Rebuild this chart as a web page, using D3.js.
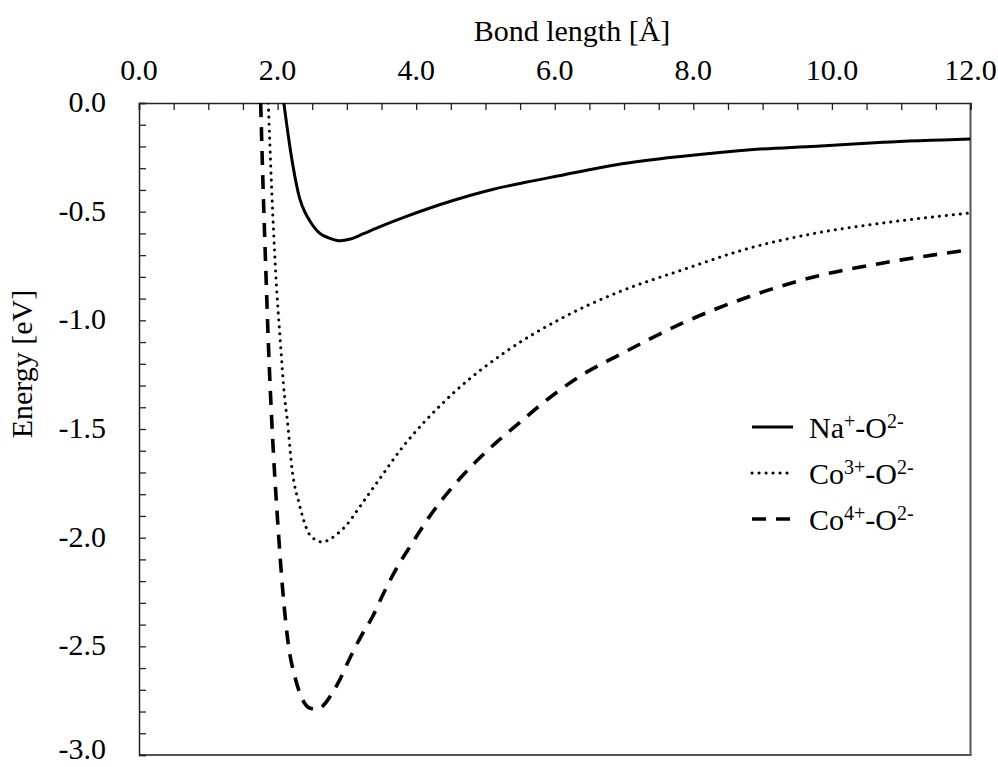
<!DOCTYPE html>
<html>
<head>
<meta charset="utf-8">
<script src="https://cdn.jsdelivr.net/npm/d3@7"></script>
<style>
  html, body { margin: 0; padding: 0; background: #fff; }
  svg { display: block; font-family: "Liberation Serif", "Times New Roman", serif; }
</style>
</head>
<body>
<svg id="chart" width="998" height="767"></svg>
<script>
// ---- data ----
const naX = [2.09, 2.20, 2.32, 2.40, 2.47, 2.61, 2.76, 2.90, 3.05, 3.24, 3.48, 3.85, 4.20, 4.52, 5.10, 5.58, 6.06, 6.89, 7.85, 8.82, 9.78, 10.74, 12.0];
const naY = [0.0, -0.247, -0.44, -0.506, -0.545, -0.600, -0.623, -0.634, -0.626, -0.601, -0.569, -0.523, -0.483, -0.450, -0.398, -0.365, -0.335, -0.284, -0.245, -0.215, -0.199, -0.181, -0.166];

const co3X = [1.866, 1.915, 1.97, 2.04, 2.10, 2.14, 2.21, 2.31, 2.45, 2.55, 2.64, 2.74, 2.84, 3.00, 3.17, 3.46, 3.80, 4.14, 4.57, 5.29, 6.06, 6.89, 7.85, 8.82, 9.78, 10.74, 12.0];
const co3Y = [0.0, -0.40, -0.767, -1.10, -1.35, -1.459, -1.689, -1.842, -1.98, -2.01, -2.02, -2.01, -1.988, -1.94, -1.865, -1.735, -1.585, -1.46, -1.325, -1.145, -0.997, -0.874, -0.767, -0.667, -0.598, -0.552, -0.506];

const co4X = [1.756, 1.79, 1.83, 1.87, 1.92, 2.00, 2.07, 2.16, 2.25, 2.36, 2.47, 2.58, 2.68, 2.78, 2.88, 3.03, 3.20, 3.37, 3.54, 3.73, 3.94, 4.14, 4.35, 4.59, 4.86, 5.17, 5.44, 5.93, 6.41, 6.89, 7.85, 8.82, 9.78, 10.74, 12.0];
const co4Y = [0.0, -0.38, -0.767, -1.13, -1.49, -1.919, -2.226, -2.502, -2.64, -2.745, -2.785, -2.79, -2.765, -2.72, -2.665, -2.563, -2.456, -2.364, -2.249, -2.134, -2.027, -1.927, -1.835, -1.743, -1.651, -1.558, -1.485, -1.355, -1.248, -1.166, -1.012, -0.889, -0.797, -0.736, -0.675];

const xTickLabels = [0, 2, 4, 6, 8, 10, 12];
const yTickLabels = [0, -0.5, -1.0, -1.5, -2.0, -2.5, -3.0];

const seriesNames = [
  { base: "Na", sup1: "+", mid: "-O", sup2: "2-" },
  { base: "Co", sup1: "3+", mid: "-O", sup2: "2-" },
  { base: "Co", sup1: "4+", mid: "-O", sup2: "2-" }
];

// ---- layout ----
const svg = d3.select("#chart");
const L = 139, R = 970.5, T = 103, B = 755;
const FS = 30;
const x = d3.scaleLinear().domain([0, 12]).range([L, R]);
const y = d3.scaleLinear().domain([-3, 0]).range([B, T]);

const series = [
  { xs: naX, ys: naY, dash: null, width: 3, cap: "butt" },
  { xs: co3X, ys: co3Y, dash: "0.1,6.9", width: 3, cap: "round" },
  { xs: co4X, ys: co4Y, dash: "14,10", width: 3.6, cap: "butt" }
];

svg.append("clipPath").attr("id", "clip")
  .append("rect").attr("x", L).attr("y", T).attr("width", R - L).attr("height", B - T);

// frame: right & bottom gray
svg.append("line").attr("x1", R).attr("x2", R).attr("y1", T).attr("y2", B + 1)
  .attr("stroke", "#555").attr("stroke-width", 2);
svg.append("line").attr("x1", L).attr("x2", R + 1).attr("y1", B).attr("y2", B)
  .attr("stroke", "#555").attr("stroke-width", 2);

// top axis (ticks inward)
const xAxis = d3.axisTop(x).tickValues(d3.range(0, 12.01, 0.5)).tickSize(-7).tickFormat("");
const gx = svg.append("g").attr("transform", `translate(0,${T})`).call(xAxis);
gx.select(".domain").attr("stroke", "#222").attr("stroke-width", 1.5);
gx.selectAll(".tick line").attr("stroke", "#222").attr("stroke-width", 1.3);

// left axis (ticks inward)
const yAxis = d3.axisLeft(y).tickValues(d3.range(-30, 1, 1).map(d => d / 10)).tickSize(-7).tickFormat("");
const gy = svg.append("g").attr("transform", `translate(${L},0)`).call(yAxis);
gy.select(".domain").attr("stroke", "#222").attr("stroke-width", 1.5);
gy.selectAll(".tick line").attr("stroke", "#222").attr("stroke-width", 1.3);

// tick labels
svg.append("g").selectAll("text").data(xTickLabels).join("text")
  .attr("x", d => x(d)).attr("y", 80)
  .attr("text-anchor", "middle").attr("font-size", FS).attr("fill", "#000")
  .text(d => d.toFixed(1));
svg.append("g").selectAll("text").data(yTickLabels).join("text")
  .attr("x", 106).attr("y", d => Math.min(y(d) + 9, 759))
  .attr("text-anchor", "end").attr("font-size", FS).attr("fill", "#000")
  .text(d => d.toFixed(1));

// axis titles
svg.append("text").attr("x", 572).attr("y", 41).attr("text-anchor", "middle")
  .attr("font-size", FS).text("Bond length [Å]");
svg.append("text").attr("transform", "translate(32,364) rotate(-90)")
  .attr("text-anchor", "middle").attr("font-size", FS).text("Energy [eV]");

// curves
const line = d3.line().x(d => x(d[0])).y(d => y(d[1])).curve(d3.curveMonotoneX);
const gl = svg.append("g").attr("clip-path", "url(#clip)");
series.forEach(s => {
  const pts = s.xs.map((v, i) => [v, s.ys[i]]);
  gl.append("path").datum(pts).attr("d", line)
    .attr("fill", "none").attr("stroke", "#000")
    .attr("stroke-width", s.width).attr("stroke-linecap", s.cap)
    .attr("stroke-dasharray", s.dash);
});

// legend
const legY = [427, 473, 519];
series.forEach((s, i) => {
  svg.append("line").attr("x1", 752).attr("x2", 793).attr("y1", legY[i]).attr("y2", legY[i])
    .attr("stroke", "#000").attr("stroke-width", s.width).attr("stroke-linecap", s.cap)
    .attr("stroke-dasharray", s.dash);
  const t = svg.append("text").attr("x", 809).attr("y", legY[i] + 11).attr("font-size", FS);
  const n = seriesNames[i];
  t.append("tspan").text(n.base);
  t.append("tspan").attr("font-size", 20).attr("dy", -10).text(n.sup1);
  t.append("tspan").attr("dy", 10).text(n.mid);
  t.append("tspan").attr("font-size", 20).attr("dy", -10).text(n.sup2);
});
</script>
</body>
</html>
